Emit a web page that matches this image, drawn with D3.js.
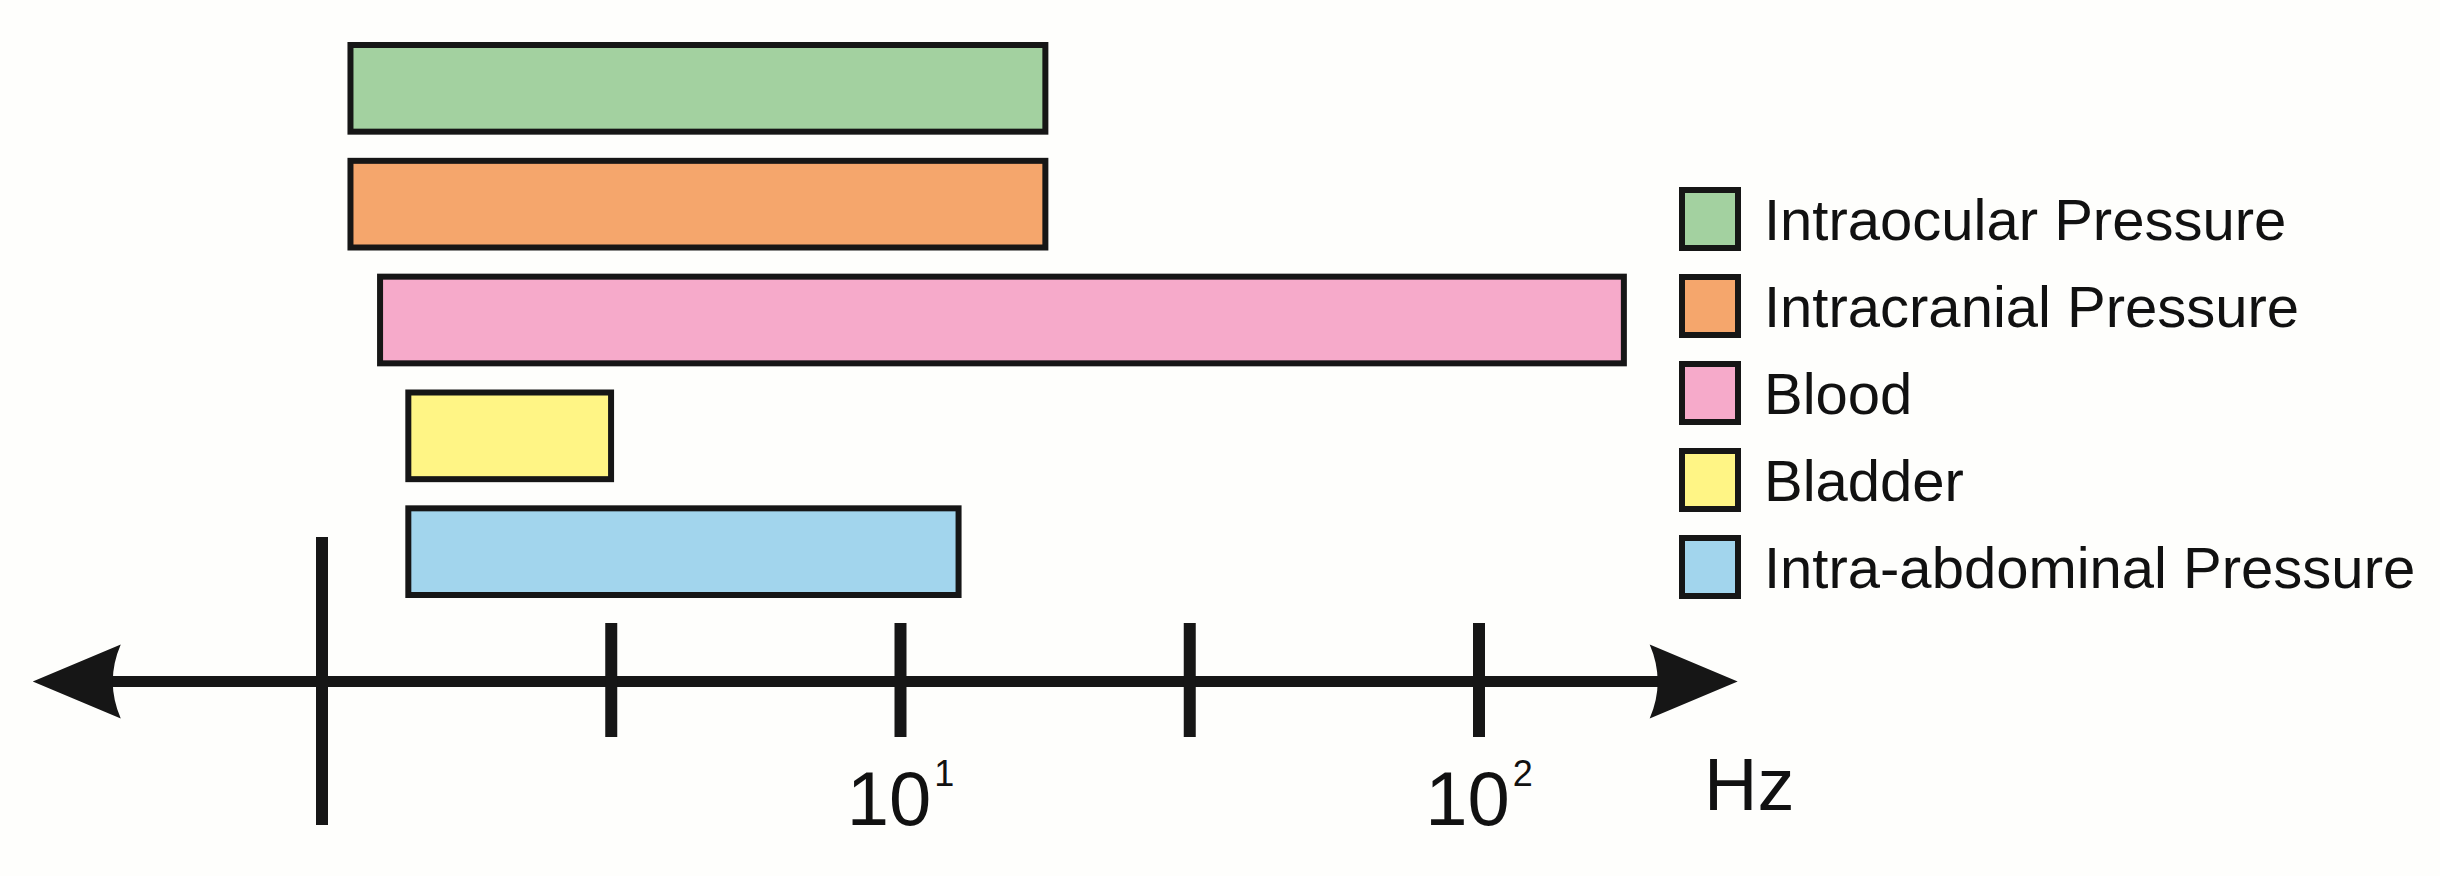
<!DOCTYPE html>
<html>
<head>
<meta charset="utf-8">
<script src="https://cdn.jsdelivr.net/npm/d3@7"></script>
<style>
  html, body { margin: 0; padding: 0; background: #fefefc; }
  svg { display: block; }
  text { font-family: "Liberation Sans", Arial, Helvetica, sans-serif; fill: #111; }
</style>
</head>
<body>
<svg id="chart"></svg>
<script>
// frequency ranges (Hz) per signal
const categories = ["Intraocular Pressure", "Intracranial Pressure", "Blood", "Bladder", "Intra-abdominal Pressure"];
const lowHz = [1.12, 1.12, 1.26, 1.41, 1.41];
const highHz = [17.8, 17.8, 178, 3.16, 12.6];
const fillColors = ["#a3d1a0", "#f5a66c", "#f6aaca", "#fff585", "#a2d5ed"];

// axis
const tickValues = [1, Math.sqrt(10), 10, Math.sqrt(1000), 100];
const majorTick = 1;
const tickLabels = [{ value: 10, exp: "1" }, { value: 100, exp: "2" }];
const axisExtent = [Math.sqrt(0.1), 280];
const unitLabel = "Hz";

(function draw() {
  const width = 2440;
  const height = 876;
  const ink = "#161616";

  const svg = d3.select("#chart").attr("width", width).attr("height", height);

  const x = d3.scaleLog().domain([1, 100]).range([322, 1479]);
  const y = d3.scaleBand().domain(categories).range([42, 598]).paddingInner(0.2).paddingOuter(0);

  const rows = categories.map((c, i) => ({ name: c, lo: lowHz[i], hi: highHz[i], color: fillColors[i] }));

  const sw = 6;
  svg.append("g")
    .selectAll("rect")
    .data(rows)
    .join("rect")
    .attr("x", d => x(d.lo))
    .attr("width", d => x(d.hi) - x(d.lo))
    .attr("y", d => y(d.name) + sw / 2)
    .attr("height", y.bandwidth() - sw)
    .attr("fill", d => d.color)
    .attr("stroke", ink)
    .attr("stroke-width", sw);

  // axis line with arrows at both ends
  const axisY = 681.5;
  const x0 = x(axisExtent[0]);
  const x1 = x(axisExtent[1]);
  const headLen = 88;
  const headHalf = 37;
  const notch = 80;

  const gAxis = svg.append("g");
  gAxis.append("line")
    .attr("x1", x0 + notch - 2)
    .attr("x2", x1 - notch + 2)
    .attr("y1", axisY)
    .attr("y2", axisY)
    .attr("stroke", ink)
    .attr("stroke-width", 11);

  function arrowPath(tip, dir) {
    const bx = tip + dir * headLen;
    const p = d3.path();
    p.moveTo(tip, axisY);
    p.lineTo(bx, axisY - headHalf);
    p.quadraticCurveTo(tip + dir * (2 * notch - headLen), axisY, bx, axisY + headHalf);
    p.closePath();
    return p.toString();
  }
  gAxis.append("path").attr("d", arrowPath(x0, 1)).attr("fill", ink);
  gAxis.append("path").attr("d", arrowPath(x1, -1)).attr("fill", ink);

  gAxis.selectAll("line.tick")
    .data(tickValues)
    .join("line")
    .attr("class", "tick")
    .attr("x1", d => x(d))
    .attr("x2", d => x(d))
    .attr("y1", d => d === majorTick ? 537 : 623)
    .attr("y2", d => d === majorTick ? 825 : 737)
    .attr("stroke", ink)
    .attr("stroke-width", 12);

  const lbl = gAxis.selectAll("text.tlabel")
    .data(tickLabels)
    .join("text")
    .attr("class", "tlabel")
    .attr("x", d => x(d.value))
    .attr("y", 825)
    .attr("text-anchor", "middle")
    .style("font-size", "76px");
  lbl.append("tspan").text("10");
  lbl.append("tspan")
    .attr("dx", 3)
    .attr("dy", -39)
    .style("font-size", "36px")
    .text(d => d.exp);

  gAxis.append("text")
    .attr("x", 1704)
    .attr("y", 810)
    .style("font-size", "74px")
    .text(unitLabel);

  // legend
  const legend = svg.append("g").attr("transform", "translate(1679,187)");
  const item = legend.selectAll("g")
    .data(rows)
    .join("g")
    .attr("transform", (d, i) => `translate(0,${i * 87})`);

  item.append("rect")
    .attr("x", 3)
    .attr("y", 3)
    .attr("width", 56)
    .attr("height", 58)
    .attr("fill", d => d.color)
    .attr("stroke", ink)
    .attr("stroke-width", 6);

  item.append("text")
    .attr("x", 85)
    .attr("y", 53)
    .style("font-size", "58px")
    .text(d => d.name);
})();
</script>
</body>
</html>
